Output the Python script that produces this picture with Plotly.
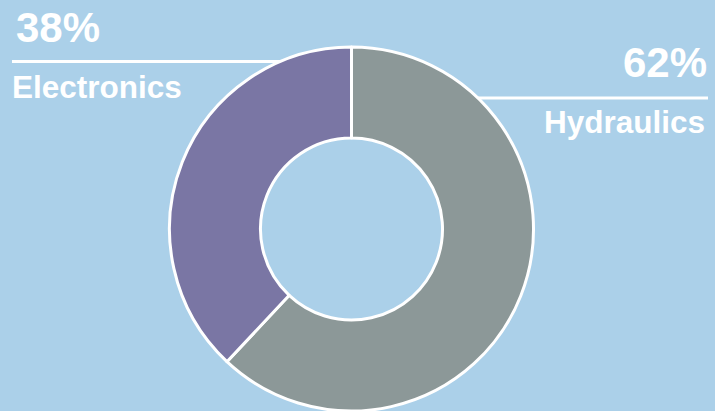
import plotly.graph_objects as go

labels = ["Hydraulics", "Electronics"]
values = [62, 38]
colors = ["#8c9898", "#7a76a4"]
pct_text = ["62%", "38%"]

W, H = 715, 411
BG = "#abd0e9"

def px(x):
    return x / W

def py(y):
    return 1 - y / H

cx, cy, r = 351.5, 229, 182
fig = go.Figure(go.Pie(
    labels=labels, values=values, hole=0.5, sort=False, direction="clockwise",
    rotation=0, marker=dict(colors=colors, line=dict(color="white", width=3)),
    textinfo="none", hoverinfo="label+percent", showlegend=False,
    domain=dict(x=[px(cx - r), px(cx + r)], y=[max(0, py(cy + r)), py(cy - r)]),
))

font_big = dict(family="Liberation Sans, Arial", size=42, color="white", weight="bold")
font_lbl = dict(family="Liberation Sans, Arial", size=31.5, color="white", weight="bold")

ann = [
    dict(text=pct_text[1], x=px(14), y=py(27.5), xanchor="left", yanchor="middle", font=font_big),
    dict(text=labels[1], x=px(10), y=py(86.5), xanchor="left", yanchor="middle", font=font_lbl),
    dict(text=pct_text[0], x=px(709), y=py(62.5), xanchor="right", yanchor="middle", font=font_big),
    dict(text=labels[0], x=px(707), y=py(121.5), xanchor="right", yanchor="middle", font=font_lbl),
]
for a in ann:
    a.update(xref="paper", yref="paper", showarrow=False)

shapes = [
    dict(type="line", xref="paper", yref="paper", x0=px(12), x1=px(282), y0=py(61.5), y1=py(61.5),
         line=dict(color="white", width=3), layer="below"),
    dict(type="line", xref="paper", yref="paper", x0=px(476), x1=px(708), y0=py(98), y1=py(98),
         line=dict(color="white", width=3), layer="below"),
]

fig.update_layout(
    width=W, height=H, margin=dict(l=0, r=0, t=0, b=0),
    paper_bgcolor=BG, plot_bgcolor=BG,
    annotations=ann, shapes=shapes,
)
fig.write_html("out.html", config={"displayModeBar": False},
               post_script="document.body.style.margin='0';document.body.style.background='%s';" % BG)
